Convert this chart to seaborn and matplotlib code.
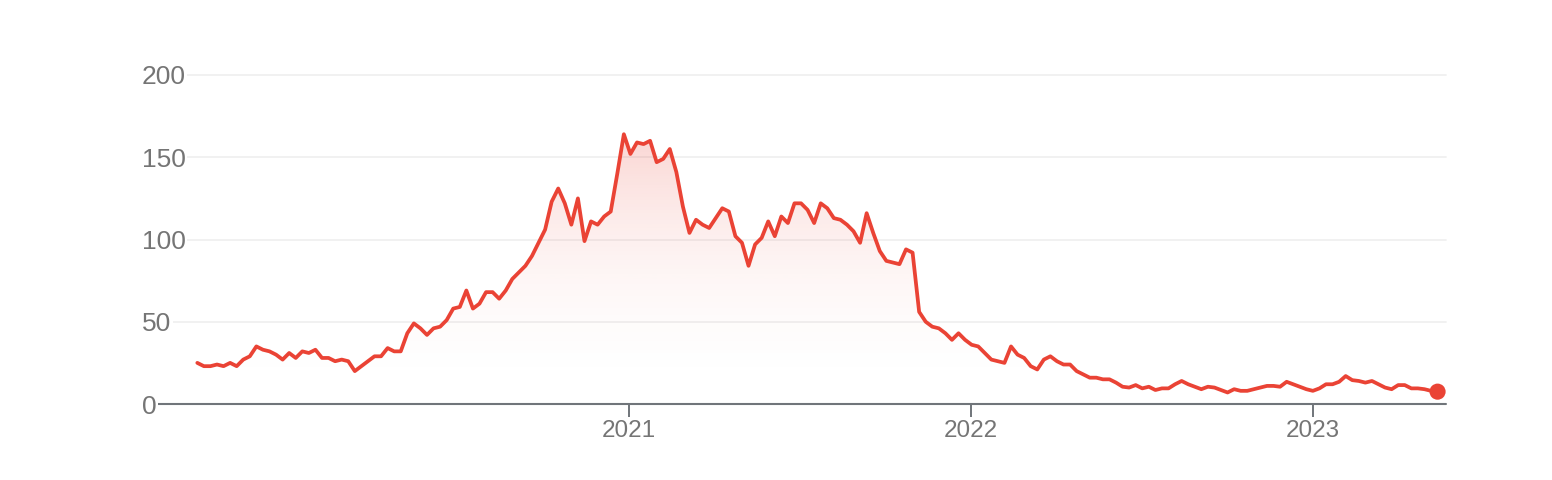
import matplotlib as mpl
import matplotlib.pyplot as plt
import matplotlib.dates as mdates
import seaborn as sns
import pandas as pd
import numpy as np

# weekly values, first week starts on this Sunday
first_week = "2019-09-29"
values = [
    25, 23, 23, 24, 23, 25, 23, 27, 29, 35,
    33, 32, 30, 27, 31, 28, 32, 31, 33, 28,
    28, 26, 27, 26, 20, 23, 26, 29, 29, 34,
    32, 32, 43, 49, 46, 42, 46, 47, 51, 58,
    59, 69, 58, 61, 68, 68, 64, 69, 76, 80,
    84, 90, 98, 106, 123, 131, 122, 109, 125, 99,
    111, 109, 114, 117, 140, 164, 152, 159, 158, 160,
    147, 149, 155, 141, 120, 104, 112, 109, 107, 113,
    119, 117, 102, 98, 84, 97, 101, 111, 102, 114,
    110, 122, 122, 118, 110, 122, 119, 113, 112, 109,
    105, 98, 116, 104, 93, 87, 86, 85, 94, 92,
    56, 50, 47, 46, 43, 39, 43, 39, 36, 35,
    31, 27, 26, 25, 35, 30, 28, 23, 21, 27,
    29, 26, 24, 24, 20, 18, 16, 16, 15, 15,
    13, 10.5, 10, 11.5, 9.5, 10.5, 8.5, 9.5, 9.5, 12,
    14, 12, 10.5, 9, 10.5, 10, 8.5, 7, 9, 8,
    8, 9, 10, 11, 11, 10.5, 13.5, 12, 10.5, 9,
    8, 9.5, 12, 12, 13.5, 17, 14.5, 14, 13, 14,
    12, 10, 9, 11.5, 11.5, 9.5, 9.5, 9, 8, 7.5,
]
year_ticks = ["2021-01-01", "2022-01-01", "2023-01-01"]
y_ticks = [0, 50, 100, 150, 200]

line_red = "#ea4335"
label_grey = "#757575"
axis_grey = "#70757a"

df = pd.DataFrame({
    "week": pd.date_range(first_week, periods=len(values), freq="7D"),
    "value": values,
})

sns.set_style("white")
plt.rcParams["font.family"] = ["Liberation Sans", "DejaVu Sans"]

fig = plt.figure(figsize=(15.52, 4.8), dpi=100)
ax = fig.add_axes([142 / 1552, 76 / 480, 1304 / 1552, 329 / 480])

sns.lineplot(data=df, x="week", y="value", color=line_red, linewidth=2.7,
             solid_joinstyle="round", solid_capstyle="round", ax=ax, zorder=4)
sns.scatterplot(data=df.iloc[[-1]], x="week", y="value", color=line_red,
                s=135, edgecolor="none", ax=ax, zorder=5)

# faint red gradient under the line, fading towards the baseline
area = ax.fill_between(df["week"], df["value"], 0, facecolor="none", edgecolor="none")
vmax = df["value"].max()
ramp = np.linspace(0, 1, 256)[:, None]
rgba = np.zeros((256, 1, 4))
rgba[..., :3] = mpl.colors.to_rgb(line_red)
rgba[..., 3] = 0.22 * ramp ** 2
x0, x1 = mdates.date2num(df["week"].iloc[[0, -1]])
img = ax.imshow(rgba, extent=[x0, x1, 0, vmax], origin="lower", aspect="auto", zorder=3)
img.set_clip_path(area.get_paths()[0], transform=ax.transData)

ax.set_xlim(pd.Timestamp("2019-08-01"), pd.Timestamp("2023-05-23"))
ax.set_ylim(0, 200)
ax.set_xlabel("")
ax.set_ylabel("")

ax.set_xticks(pd.to_datetime(year_ticks))
ax.xaxis.set_major_formatter(mdates.DateFormatter("%Y"))
ax.set_yticks(y_ticks)
ax.tick_params(axis="x", bottom=True, length=9, width=1.4, color=axis_grey,
               labelcolor=label_grey, labelsize=17.5, pad=2.5)
ax.tick_params(axis="y", left=False, length=0, pad=0, labelcolor=label_grey, labelsize=19)
for lab in ax.get_yticklabels():
    lab.set_horizontalalignment("left")
    lab.set_bbox(dict(boxstyle="square,pad=0.05", fc="white", ec="none"))

for s in ax.spines.values():
    s.set_visible(False)
ax.xaxis.grid(False)
ax.yaxis.grid(True, color="#f0f0f0", linewidth=1.3)
for gl in ax.yaxis.get_gridlines():
    gl.set_clip_on(False)
ax.yaxis.get_gridlines()[0].set_color(axis_grey)
ax.yaxis.get_gridlines()[0].set_linewidth(1.5)

fig.savefig("out.png", dpi=100)
